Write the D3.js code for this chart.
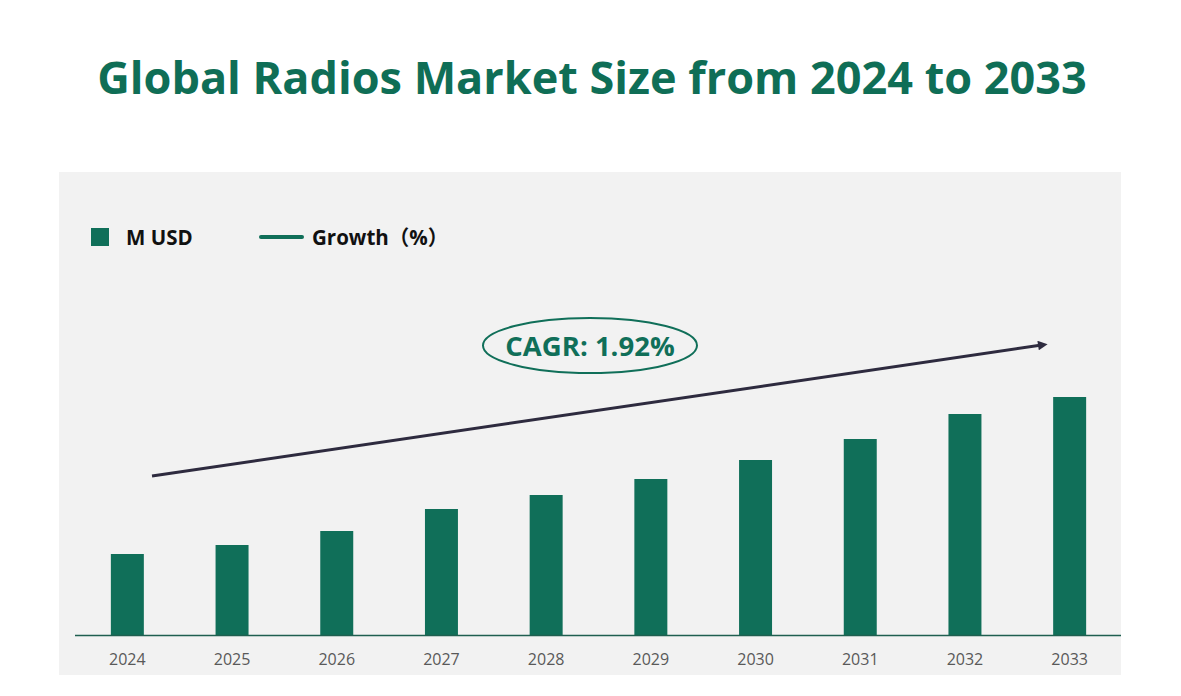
<!DOCTYPE html>
<html>
<head>
<meta charset="utf-8">
<script src="https://cdn.jsdelivr.net/npm/d3@7/dist/d3.min.js"></script>
<style>
  html, body { margin: 0; padding: 0; background: #ffffff; }
  svg { display: block; }
</style>
</head>
<body>
<svg id="chart" width="1181" height="696"></svg>
<script>
const titleText = "Global Radios Market Size from 2024 to 2033";
const years = ["2024","2025","2026","2027","2028","2029","2030","2031","2032","2033"];
const marketSize = [81, 90, 104, 126, 140, 156, 175, 196, 221, 238];
const legendLabels = ["M USD", "Growth（%）"];
const cagrLabel = "CAGR: 1.92%";

const green = "#106f59";
const svg = d3.select("#chart");

// panel background
svg.append("rect").attr("x", 59).attr("y", 172).attr("width", 1062).attr("height", 503).attr("fill", "#f2f2f2");

// title
const title = svg.append("text")
  .attr("x", 592).attr("y", 94)
  .attr("text-anchor", "middle")
  .attr("font-family", "'Open Sans', 'Noto Sans', sans-serif")
  .attr("font-weight", 700)
  .attr("font-size", 48)
  .attr("fill", "#0f6e56")
  .text(titleText);
const tw = title.node().getComputedTextLength();
title.attr("font-size", 48 * 990 / tw);

// scales
const x = d3.scaleBand().domain(years).range([75, 1122]).paddingInner(0.685).paddingOuter(0.3425);
const baseY = 635;
const y = d3.scaleLinear().domain([0, 238]).range([baseY, 397]);

// bars
svg.append("g").selectAll("rect").data(years).join("rect")
  .attr("x", d => x(d))
  .attr("width", x.bandwidth())
  .attr("y", (d, i) => y(marketSize[i]))
  .attr("height", (d, i) => baseY - y(marketSize[i]))
  .attr("fill", green);

// x axis
const xAxis = svg.append("g").attr("transform", `translate(0,${baseY})`)
  .call(d3.axisBottom(x).tickSize(0).tickPadding(19));
xAxis.select(".domain").attr("stroke", "#1f5f50").attr("stroke-width", 1.5).attr("d", "M75,0.5H1121");
xAxis.selectAll("text")
  .attr("font-family", "'Open Sans', 'Noto Sans', sans-serif")
  .attr("font-size", 16)
  .attr("fill", "#595959");

// legend
svg.append("rect").attr("x", 91).attr("y", 228).attr("width", 18).attr("height", 18).attr("fill", green);
svg.append("text").attr("x", 126).attr("y", 244.5)
  .attr("font-family", "'Open Sans', 'Noto Sans', sans-serif").attr("font-weight", 700)
  .attr("font-size", 20.5).attr("fill", "#111").text(legendLabels[0]);
svg.append("line").attr("x1", 261).attr("x2", 302).attr("y1", 237).attr("y2", 237)
  .attr("stroke", green).attr("stroke-width", 4).attr("stroke-linecap", "round");
svg.append("text").attr("x", 312).attr("y", 244.5)
  .attr("font-family", "'Open Sans', 'Noto Sans CJK SC', sans-serif").attr("font-weight", 700)
  .attr("font-size", 20.5).attr("fill", "#111").text(legendLabels[1]);

// arrow
const defs = svg.append("defs");
defs.append("marker").attr("id", "arrowhead")
  .attr("viewBox", "0 0 10 10").attr("refX", 2).attr("refY", 5)
  .attr("markerWidth", 4).attr("markerHeight", 3.2).attr("markerUnits", "strokeWidth")
  .attr("orient", "auto")
  .append("path").attr("d", "M0,0L10,5L0,10Z").attr("fill", "#2e2b3f");
svg.append("line")
  .attr("x1", 152).attr("y1", 476).attr("x2", 1040).attr("y2", 345.3)
  .attr("stroke", "#2e2b3f").attr("stroke-width", 3)
  .attr("marker-end", "url(#arrowhead)");

// CAGR ellipse
svg.append("ellipse").attr("cx", 590).attr("cy", 345.5).attr("rx", 107).attr("ry", 27.5)
  .attr("fill", "none").attr("stroke", green).attr("stroke-width", 2);
svg.append("text").attr("x", 590).attr("y", 356)
  .attr("text-anchor", "middle")
  .attr("font-family", "'Open Sans', 'Noto Sans', sans-serif").attr("font-weight", 700)
  .attr("font-size", 27.5).attr("fill", green).text(cagrLabel);
</script>
</body>
</html>
